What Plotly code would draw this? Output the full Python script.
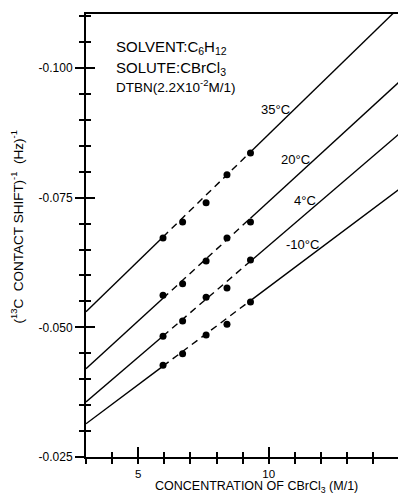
import plotly.graph_objects as go

# ---- data ----
conc = [5.95, 6.7, 7.6, 8.4, 9.3]
temps = ["35°C", "20°C", "4°C", "-10°C"]
inv_shift_35 = [-0.0672, -0.0703, -0.0740, -0.0794, -0.0836]
inv_shift_20 = [-0.0562, -0.0584, -0.0628, -0.0672, -0.0703]
inv_shift_4 = [-0.0483, -0.0512, -0.0558, -0.0576, -0.0630]
inv_shift_m10 = [-0.0427, -0.0449, -0.0485, -0.0506, -0.0549]
# fitted straight lines: value at x = 3 and slope per M/l
fit_intercept = [-0.0530, -0.0420, -0.0356, -0.0314]
fit_slope = [-0.00489, -0.00461, -0.00431, -0.00377]

x_ticks = [5, 10]
x_ticklabels = ["5", "10"]
y_ticks = [-0.100, -0.075, -0.050, -0.025]
y_ticklabels = ["-0.100", "-0.075", "-0.050", "-0.025"]

X0, X1 = 3.0, 14.95
Y0, Y1 = -0.025, -0.1104

series = [inv_shift_35, inv_shift_20, inv_shift_4, inv_shift_m10]

FONT = "Liberation Sans, Arial, sans-serif"
fig = go.Figure()

def fit(i, x):
    return fit_intercept[i] + fit_slope[i] * (x - X0)

for i, ys in enumerate(series):
    xa, xb = conc[0], conc[-1]
    # solid extrapolations
    for seg in ([X0, xa], [xb, 16.0]):
        fig.add_trace(go.Scatter(x=seg, y=[fit(i, v) for v in seg], mode="lines",
                                 line=dict(color="black", width=1.4),
                                 showlegend=False, hoverinfo="skip"))
    # dashed part between the measured points
    fig.add_trace(go.Scatter(x=[xa, xb], y=[fit(i, xa), fit(i, xb)], mode="lines",
                             line=dict(color="black", width=1.4, dash="7px,5px"),
                             showlegend=False, hoverinfo="skip"))
    fig.add_trace(go.Scatter(x=conc, y=ys, mode="markers", name=temps[i],
                             marker=dict(color="black", size=7),
                             showlegend=False))

# dummy trace so that the overlay axes (inner half of the ticks) are drawn
fig.add_trace(go.Scatter(x=[None], y=[None], xaxis="x2", yaxis="y2", showlegend=False))

axis_common = dict(showgrid=False, zeroline=False)
TC = "black"

fig.update_layout(
    width=398, height=494,
    margin=dict(l=86, r=0, t=14, b=37),
    paper_bgcolor="white", plot_bgcolor="rgba(0,0,0,0)",
    font=dict(family=FONT, color="black", size=12),
    xaxis=dict(range=[X0, X1], showline=True, linewidth=2, linecolor="black", mirror=True,
               tickmode="array", tickvals=x_ticks, ticktext=x_ticklabels,
               ticks="outside", ticklen=5, tickwidth=1.5, tickcolor=TC,
               minor=dict(tickmode="linear", dtick=1, tick0=0, ticks="outside", ticklen=5, tickwidth=1.5, tickcolor=TC),
               tickfont=dict(size=11.5, family=FONT, color="black"), **axis_common),
    xaxis2=dict(range=[X0, X1], overlaying="x", anchor="y", side="bottom", showline=False,
                tickmode="array", tickvals=x_ticks, showticklabels=False,
                ticks="inside", ticklen=10, tickwidth=1.5, tickcolor=TC,
                minor=dict(tickmode="linear", dtick=1, tick0=0, ticks="inside", ticklen=5, tickwidth=1.5, tickcolor=TC),
                **axis_common),
    yaxis=dict(range=[Y0, Y1], showline=True, linewidth=2, linecolor="black", mirror=False,
               tickmode="array", tickvals=y_ticks, ticktext=y_ticklabels,
               ticks="outside", ticklen=9, tickwidth=1.5, tickcolor=TC,
               minor=dict(tickmode="linear", dtick=0.005, tick0=-0.025, ticks="outside", ticklen=5, tickwidth=1.5, tickcolor=TC),
               tickfont=dict(size=12, family=FONT, color="black"), **axis_common),
    yaxis2=dict(range=[Y0, Y1], overlaying="y", anchor="x", side="left", showline=False,
                tickmode="array", tickvals=y_ticks, showticklabels=False,
                ticks="inside", ticklen=9, tickwidth=1.5, tickcolor=TC,
                minor=dict(tickmode="linear", dtick=0.005, tick0=-0.025, ticks="inside", ticklen=5, tickwidth=1.5, tickcolor=TC),
                **axis_common),
)

ann = []
# axis titles
ann.append(dict(text="CONCENTRATION OF CBrCl<sub>3</sub> (M/1)", xref="paper", yref="paper",
                x=0.545, y=-0.0685, xanchor="center", yanchor="middle", showarrow=False,
                borderpad=0, font=dict(size=12.5, family=FONT)))
ann.append(dict(text="(<sup>13</sup>C  CONTACT SHIFT)<sup>-1</sup>  (Hz)<sup>-1</sup>",
                xref="paper", yref="paper", x=-0.222, y=0.52, textangle=-90,
                xanchor="center", yanchor="middle", showarrow=False,
                font=dict(size=13.5, family=FONT)))
# info block
ann.append(dict(text="SOLVENT:C<sub>6</sub>H<sub>12</sub>", xref="paper", yref="paper",
                x=0.09, y=0.924, xanchor="left", yanchor="middle", showarrow=False,
                font=dict(size=15, family=FONT)))
ann.append(dict(text="SOLUTE:CBrCl<sub>3</sub>", xref="paper", yref="paper",
                x=0.09, y=0.878, xanchor="left", yanchor="middle", showarrow=False,
                font=dict(size=15, family=FONT)))
ann.append(dict(text="DTBN(2.2X10<sup>-2</sup>M/1)", xref="paper", yref="paper",
                x=0.09, y=0.837, xanchor="left", yanchor="middle", showarrow=False,
                font=dict(size=13.5, family=FONT)))
# temperature labels
label_pos = [(10.24, -0.0919), (11.01, -0.0823), (11.39, -0.0745), (11.28, -0.0659)]
for t, (lx, ly) in zip(temps, label_pos):
    ann.append(dict(text=t, x=lx, y=ly, xref="x", yref="y", showarrow=False,
                    xanchor="center", yanchor="middle", font=dict(size=13, family=FONT)))
fig.update_layout(annotations=ann)

fig.write_html("out.html")
